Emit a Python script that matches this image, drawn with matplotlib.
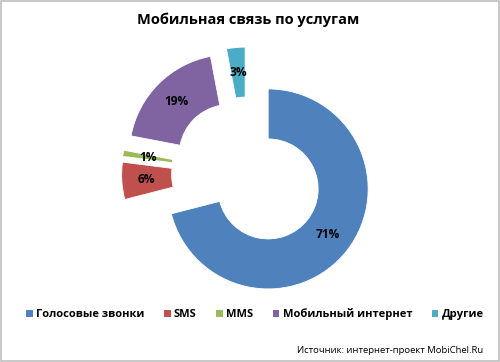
import matplotlib
matplotlib.use("Agg")
import matplotlib.pyplot as plt
from matplotlib.patches import Rectangle, Patch

plt.rcParams['font.family'] = ['Open Sans', 'DejaVu Sans']

# data
services = ["Голосовые звонки", "SMS", "MMS", "Мобильный интернет", "Другие"]
shares = [71, 6, 1, 19, 3]
colors = ["#4F81BD", "#C0504D", "#9BBB59", "#8064A2", "#4BACC6"]
explode = [0.26, 0.26, 0.26, 0.26, 0.26]

fig = plt.figure(figsize=(5, 3.62), dpi=100)
ax = fig.add_axes([0, 0, 1, 1])

wedges, texts, autotexts = ax.pie(
    shares, colors=colors, explode=explode, startangle=90, counterclock=False,
    radius=1.0, wedgeprops=dict(width=0.5, edgecolor="white", linewidth=0.6),
    autopct="%d%%", pctdistance=0.75,
    textprops=dict(fontsize=8.6, fontweight="bold", color="black"))

# pie center sits at ~ (248, 173) px in a 500x362 picture, radius 100 px
ax.set_xlim(-2.476, 2.524)
ax.set_ylim(-1.89, 1.73)
ax.set_aspect("auto")
ax.axis("off")

fig.text(0.497, 0.945, "Мобильная связь по услугам", ha="center", va="center",
         fontsize=10.5, fontweight="bold")

handles = [Patch(facecolor=c, edgecolor="none") for c in colors]
fig.legend(handles, services, loc="center", bbox_to_anchor=(0.51, 0.132), ncol=5,
           frameon=False, handlelength=0.6, handleheight=0.6, handletextpad=0.3,
           columnspacing=1.75, prop=dict(size=8.0, weight="bold"))

fig.text(0.966, 0.033, "Источник: интернет-проект MobiChel.Ru", ha="right", va="center",
         fontsize=6.8)

fig.patches.append(Rectangle((0.002, 0.003), 0.995, 0.993, transform=fig.transFigure,
                             fill=False, edgecolor="#bfbfbf", linewidth=1.2))

fig.savefig("out.png", dpi=100)
